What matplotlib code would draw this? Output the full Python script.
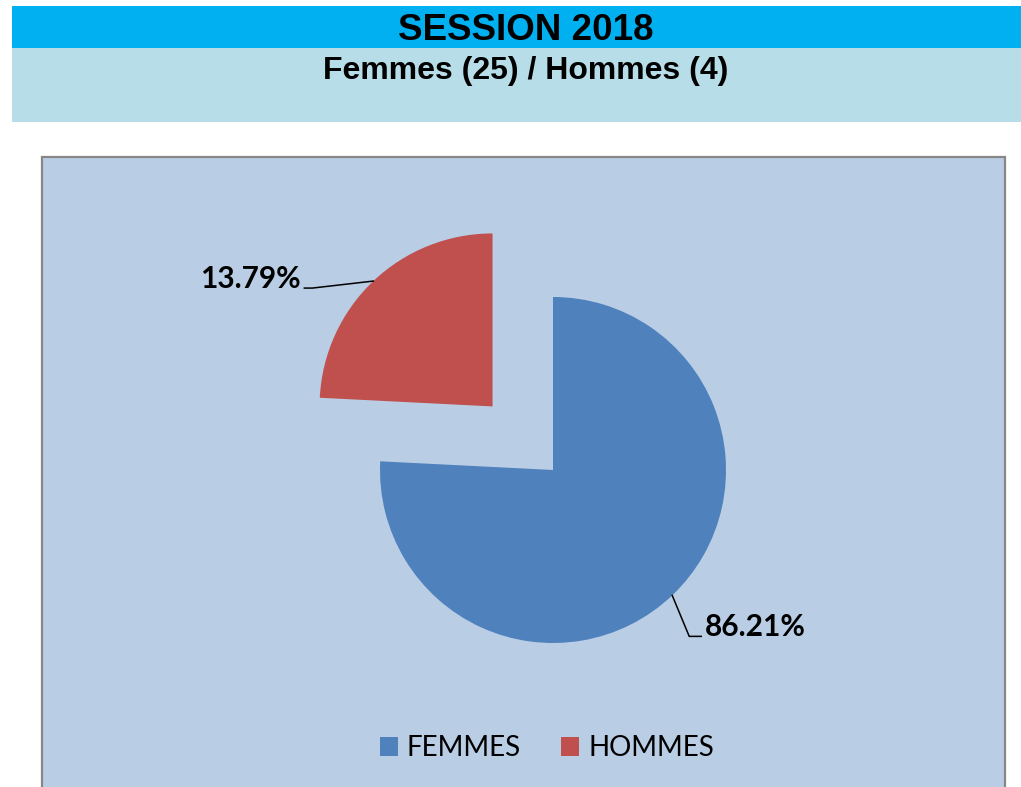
import numpy as np
import matplotlib
matplotlib.use('Agg')
import matplotlib.pyplot as plt
from matplotlib.patches import Rectangle

# data
categories = ['FEMMES', 'HOMMES']
counts = [25, 4]
wedge_share = [75.8, 24.2]
colors = ['#4F81BD', '#C0504D']
title = 'SESSION 2018'
subtitle = 'Femmes (25) / Hommes (4)'

W, H = 1021, 787
def up(y):
    return H - y

fig = plt.figure(figsize=(W/100, H/100), dpi=100)
ax = fig.add_axes([0, 0, 1, 1])

# header bands
ax.add_patch(Rectangle((12, up(48)), W-12, 42, facecolor='#00B0F0', edgecolor='none'))
ax.add_patch(Rectangle((12, up(122)), W-12, 74, facecolor='#B7DEE8', edgecolor='none'))
ax.text(526, up(40), title, ha='center', va='baseline', fontsize=26.5,
        fontweight='bold', family='Liberation Sans')
ax.text(526, up(79), subtitle, ha='center', va='baseline', fontsize=23,
        fontweight='bold', family='Liberation Sans')

# chart area
ax.add_patch(Rectangle((42, up(800)), 963, 643, facecolor='#B9CDE5',
                       edgecolor='#878787', lw=1.6))

# pie (explode is in data units here)
cx, cy, r = 553, up(470), 173
wedges, _ = ax.pie(wedge_share, colors=colors, startangle=90, counterclock=False,
                   explode=[0, 0.507*r], center=(cx, cy), radius=r,
                   wedgeprops=dict(linewidth=0), frame=True)
ax.set_xlim(0, W)
ax.set_ylim(0, H)
ax.axis('off')

pct = [100*c/sum(counts) for c in counts]

# leader lines and labels
for i, w in enumerate(wedges):
    mid = np.deg2rad((w.theta1 + w.theta2) / 2)
    ox, oy = w.center
    px, py = ox + r*np.cos(mid), oy + r*np.sin(mid)
    if np.cos(mid) < 0:
        ex, ey = px - 61, py - 7
        tx = ex - 12
        ax.plot([px, ex, tx + 4], [py, ey, ey], color='black', lw=1.1)
        ax.text(tx, ey, f'{pct[i]:.2f}%', ha='right', va='baseline', fontsize=21.5,
                fontweight='bold', family='Lato')
    else:
        ex, ey = px + 17, py - 41
        tx = ex + 13
        ax.plot([px, ex, tx - 1], [py, ey, ey], color='black', lw=1.1)
        ax.text(tx + 3, ey, f'{pct[i]:.2f}%', ha='left', va='baseline', fontsize=21.5,
                fontweight='bold', family='Lato')

leg = ax.legend(wedges, categories, loc='center', bbox_to_anchor=(547/W, up(748)/H),
                ncol=2, frameon=False, prop=dict(family='Lato', size=20),
                handlelength=0.65, handleheight=0.65, handletextpad=0.33,
                columnspacing=1.45)

fig.savefig('out.png', dpi=100)
